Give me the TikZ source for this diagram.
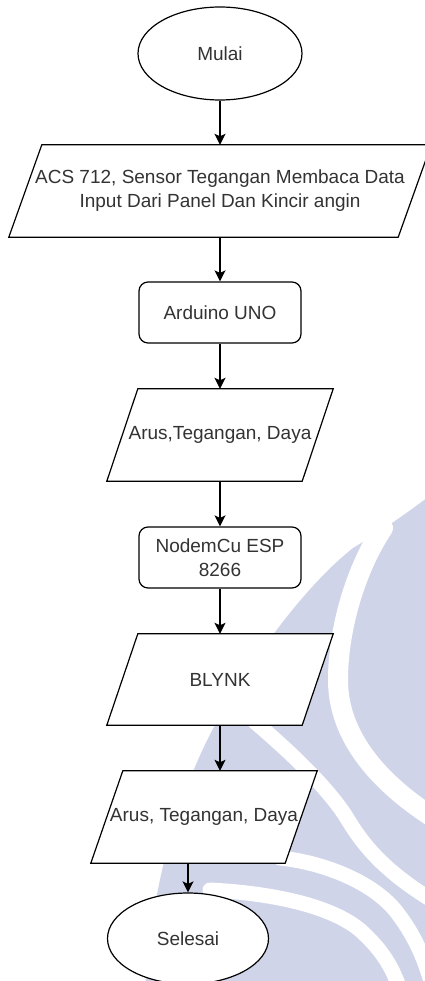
\documentclass[tikz,border=0pt]{standalone}
\usepackage{fontspec}
\setmainfont{Liberation Sans}
\usetikzlibrary{arrows.meta,shapes.geometric}
\definecolor{wm}{RGB}{207,212,233}
\definecolor{txt}{RGB}{51,51,51}
\pgfdeclarelayer{wmlayer}
\pgfdeclarelayer{bglayer}
\pgfsetlayers{wmlayer,bglayer,main}
\begin{document}
\begin{tikzpicture}[x=1pt,y=-1pt,
  every node/.style={font=\fontsize{19}{24}\selectfont, text=txt},
  term/.style={ellipse, draw, line width=1.2pt, fill=white, minimum width=164pt, minimum height=93pt, inner sep=0pt},
  proc/.style={rectangle, rounded corners=9pt, draw, line width=1.2pt, fill=white, minimum width=162pt, minimum height=61pt, inner sep=0pt, align=center},
  io/.style={draw, line width=1.2pt, fill=white, line join=miter},
  lbl/.style={align=center, inner sep=0pt, minimum height=92pt},
  arr/.style={line width=1.3pt, -{Stealth[length=11pt,width=11pt,inset=2.5pt]}},
  gap/.style={white, line width=18pt, line cap=round}
]
\useasboundingbox (0,0) rectangle (425,981);

% watermark
\begin{pgfonlayer}{wmlayer}
\begin{scope}
\clip (0,0) rectangle (425,981);
\fill[wm] (440,488) -- (440,990) -- (145,990)
  .. controls (152,880) and (180,790) .. (215,725)
  .. controls (245,670) and (300,590) .. (353,548)
  .. controls (375,535) and (405,515) .. (440,488) -- cycle;
\draw[gap, line width=20pt] (383,528) .. controls (355,570) and (338,630) .. (338,680)
  .. controls (338,730) and (370,780) .. (445,825);
\draw[gap, line width=15pt] (255,722) .. controls (290,752) and (325,785) .. (345,815)
  .. controls (360,840) and (380,870) .. (440,905);
\draw[gap, line width=15pt] (280,858) .. controls (320,862) and (370,880) .. (395,910)
  .. controls (415,935) and (425,960) .. (432,985);
\draw[gap, line width=15pt] (210,890) .. controls (270,893) and (330,905) .. (360,930)
  .. controls (380,948) and (392,965) .. (400,990);
\end{scope}
\end{pgfonlayer}

% nodes
\node[term] (start) at (220,53.5) {Mulai};
\node[lbl, minimum width=389pt] (p1) at (220,191) {ACS 712, Sensor Tegangan Membaca Data\\Input Dari Panel Dan Kincir angin};
\node[proc] (ard) at (220,312.5) {Arduino UNO};
\node[lbl, minimum width=195pt] (p2) at (220,435) {Arus,Tegangan, Daya};
\node[proc] (esp) at (220,557.5) {NodemCu ESP\\8266};
\node[lbl, minimum width=195pt, minimum height=91pt] (p3) at (220,679.5) {BLYNK};
\node[lbl, minimum width=194pt] (p4) at (204,817) {Arus, Tegangan, Daya};
\node[term, minimum width=161pt, minimum height=91pt] (end) at (188,938.5) {Selesai};

% parallelogram outlines
\begin{pgfonlayer}{bglayer}
\path[io] ([xshift=16.5pt]p1.north west) -- ([xshift=16.5pt]p1.north east) -- ([xshift=-16.5pt]p1.south east) -- ([xshift=-16.5pt]p1.south west) -- cycle;
\path[io] ([xshift=15.5pt]p2.north west) -- ([xshift=15.5pt]p2.north east) -- ([xshift=-15.5pt]p2.south east) -- ([xshift=-15.5pt]p2.south west) -- cycle;
\path[io] ([xshift=15.5pt]p3.north west) -- ([xshift=15.5pt]p3.north east) -- ([xshift=-15.5pt]p3.south east) -- ([xshift=-15.5pt]p3.south west) -- cycle;
\path[io] ([xshift=16pt]p4.north west) -- ([xshift=16pt]p4.north east) -- ([xshift=-16pt]p4.south east) -- ([xshift=-16pt]p4.south west) -- cycle;
\end{pgfonlayer}

% connectors
\draw[arr] (start.south) -- (p1.north);
\draw[arr] (p1.south) -- (ard.north);
\draw[arr] (ard.south) -- (p2.north);
\draw[arr] (p2.south) -- (esp.north);
\draw[arr] (esp.south) -- (p3.north);
\draw[arr] (p3.south) -- ([xshift=16pt]p4.north);
\draw[arr] ([xshift=-16pt]p4.south) -- (end.north);
\end{tikzpicture}
\end{document}
